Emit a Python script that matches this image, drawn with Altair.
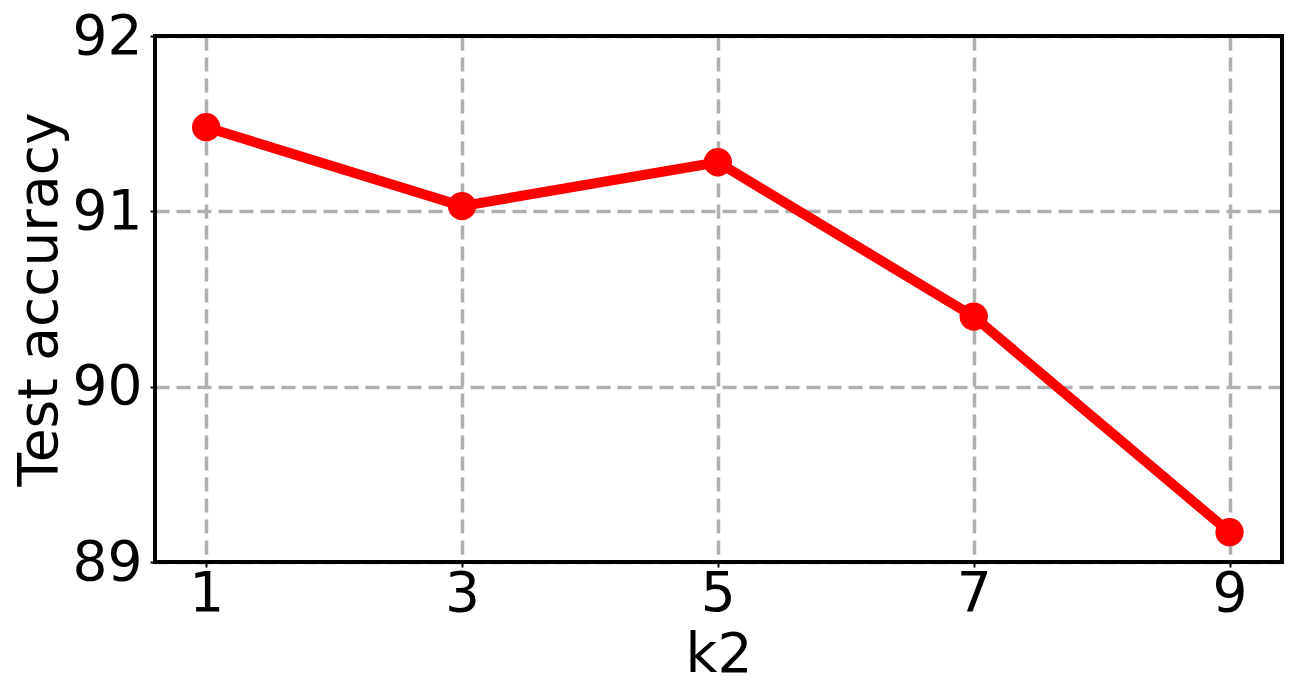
import altair as alt
import pandas as pd

k2 = [1, 3, 5, 7, 9]
acc = [91.48, 91.03, 91.28, 90.40, 89.17]

df = pd.DataFrame({"k2": k2, "acc": acc})

FONT = "DejaVu Sans"
RED = "#ff0000"
W, H = 1127, 526

x = alt.X("k2:Q", title="k2",
          scale=alt.Scale(domain=[0.6, 9.41], nice=False, zero=False),
          axis=alt.Axis(values=k2, format="d", labelFontSize=55, titleFontSize=55,
                        labelFont=FONT, titleFont=FONT, labelColor="black", titleColor="black",
                        titleFontWeight="normal", tickColor="black", tickSize=5, tickWidth=2,
                        domain=False, labelPadding=0, titlePadding=7,
                        grid=True, gridColor="#b0b0b0", gridWidth=3.5, gridDash=[14, 7]))
y = alt.Y("acc:Q", title="Test accuracy",
          scale=alt.Scale(domain=[89, 92], nice=False, zero=False),
          axis=alt.Axis(values=[89, 90, 91, 92], format="d", labelFontSize=55, titleFontSize=55,
                        labelFont=FONT, titleFont=FONT, labelColor="black", titleColor="black",
                        titleFontWeight="normal", tickColor="black", tickSize=5, tickWidth=2,
                        domain=False, labelPadding=8, titlePadding=4,
                        grid=True, gridColor="#b0b0b0", gridWidth=3.5, gridDash=[14, 7]))

base = alt.Chart(df)
line = base.mark_line(color=RED, strokeWidth=10).encode(x=x, y=y)
pts = base.mark_circle(color=RED, opacity=1, size=800).encode(x=x, y=y)
frame = alt.Chart(pd.DataFrame({"f": [0]})).mark_rect(
    fill=None, fillOpacity=0, stroke="black", strokeWidth=4
).encode(x=alt.value(0), x2=alt.value(W), y=alt.value(0), y2=alt.value(H))

chart = (line + pts + frame).properties(
    width=W, height=H,
    autosize=alt.AutoSizeParams(type="none"),
    padding={"left": 147, "top": 28, "right": 10, "bottom": 130},
).configure_view(strokeWidth=0).configure(background="white")

chart.save("out.html", embed_options={"renderer": "svg", "actions": False})
